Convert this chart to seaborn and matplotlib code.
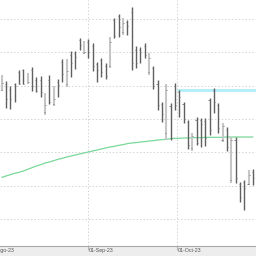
import numpy as np
import pandas as pd
import matplotlib
matplotlib.use("Agg")
import matplotlib.pyplot as plt
import matplotlib.transforms as mtransforms
import seaborn as sns

# ---- data (daily OHLC, trading days from 2023-08-04) ----
start_date = "2023-08-04"
high = [173.2,171.4,169.9,170.8,174.7,175.0,173.8,175.6,172.6,172.9,
        167.8,173.2,169.9,172.0,178.0,178.0,180.4,180.4,184.3,183.4,
        184.0,182.8,177.1,178.3,176.8,184.6,190.3,191.5,190.3,189.7,
        193.6,181.9,181.6,182.8,179.8,175.9,171.7,165.1,170.5,164.8,
        170.8,168.7,165.1,159.7,155.8,160.6,160.3,160.3,166.3,169.3,
        164.8,158.8,157.6,154.6,154.6,141.1,141.7,144.7,145.0]
low = [168.4,163.3,163.0,165.1,170.5,170.5,170.8,168.4,168.1,166.6,
       161.2,164.5,163.9,166.6,171.1,169.6,172.6,175.0,180.7,179.5,
       178.3,174.4,171.1,172.6,172.0,175.3,184.3,184.6,185.2,185.2,
       174.7,175.3,176.8,178.3,173.2,169.0,162.7,159.1,153.7,153.7,
       162.7,160.6,158.8,151.0,150.4,152.2,151.6,151.9,155.2,161.8,
       155.8,153.1,150.4,140.8,140.8,135.1,132.7,140.2,140.2]
open_ = [168.7,170.5,168.7,170.5,174.1,174.7,170.8,174.7,171.7,171.7,
         162.1,171.7,164.5,171.1,177.1,170.5,179.2,179.8,183.7,179.8,
         183.1,181.9,176.5,177.7,175.9,175.9,189.7,190.9,186.1,189.1,
         192.1,180.7,180.7,181.9,174.1,175.3,170.5,164.5,155.8,163.9,
         169.9,168.1,164.5,159.1,151.3,159.7,159.7,159.4,165.7,168.7,
         164.2,153.7,156.7,141.7,153.7,140.5,141.1,140.5,144.1]
close = [170.8,166.0,166.0,169.9,170.5,170.5,171.1,169.9,168.4,168.1,
         164.2,165.1,166.0,170.2,173.5,174.4,176.8,178.6,182.2,180.1,
         180.1,175.9,174.7,174.1,172.9,183.1,184.9,187.6,188.8,187.9,
         176.8,176.8,180.1,179.2,178.3,169.9,164.2,161.5,168.7,154.3,
         164.2,166.6,160.0,152.2,154.9,152.8,158.5,154.3,156.7,165.1,
         157.3,157.9,151.6,153.7,142.3,136.6,139.3,143.2,142.3]
ma = [142.5,142.9,143.3,143.7,144.0,144.4,144.9,145.4,145.9,146.3,
      146.8,147.1,147.5,147.9,148.2,148.6,148.9,149.2,149.5,149.8,
      150.1,150.4,150.7,151.0,151.3,151.6,151.8,152.1,152.3,152.6,
      152.8,152.9,153.1,153.2,153.4,153.5,153.7,153.8,153.9,154.1,
      154.2,154.2,154.3,154.3,154.4,154.4,154.4,154.5,154.5,154.5,
      154.5,154.5,154.6,154.6,154.6,154.6,154.6,154.6,154.6]
level_price = 168.8
level_start = "2023-10-01"
month_labels = ["01-Ago-23", "01-Sep-23", "01-Oct-23"]
month_starts = ["2023-08-01", "2023-09-01", "2023-10-01"]
grid_prices = [130, 140, 150, 160, 170, 180, 190]

# ---- build frame ----
dates = pd.bdate_range(start_date, periods=len(close))
df = pd.DataFrame({"date": dates, "open": open_, "high": high,
                   "low": low, "close": close, "ma": ma})
df["i"] = np.arange(len(df))

all_bd = pd.bdate_range("2023-08-01", "2023-12-31")
offset = int(np.searchsorted(all_bd, dates[0]))

def pos_of(d):
    d = pd.Timestamp(d)
    k = int(np.searchsorted(all_bd, d)) - offset
    return k if d in all_bd else k - 0.5

tick_pos = [pos_of(d) for d in month_starts]

sns.set_theme(style="white")
fig = plt.figure(figsize=(2.56, 2.56), dpi=100, facecolor="#ededed")
ax = fig.add_axes([0, 10/256, 1, 246/256])
ax.set_facecolor("white")

# grid
ax.set_yticks(grid_prices)
ax.set_xticks(tick_pos)
ax.grid(True, linestyle=(0, (1.5, 2)), color="#d4d4d4", linewidth=0.7)
ax.set_axisbelow(True)

# moving average
sns.lineplot(data=df, x="i", y="ma", ax=ax, color="#7ad89a", linewidth=0.9, legend=False)

# level line
ax.hlines(level_price, pos_of(level_start), 70, color="#b4eef8", linewidth=2.1, zorder=2)

# OHLC bars
up = df["close"] > df["open"]
ax.vlines(df["i"][up], df["low"][up], df["high"][up], color="#c6c6c6", linewidth=1.5, zorder=3)
ax.vlines(df["i"][~up], df["low"][~up], df["high"][~up], color="#606060", linewidth=1.0, zorder=3)
ax.hlines(df["open"], df["i"] - 0.25, df["i"], color="#707070", linewidth=0.6, zorder=4)
ax.hlines(df["close"], df["i"], df["i"] + 0.25, color="#707070", linewidth=0.6, zorder=4)

ax.set_xlim(-0.39, 58.73)
ax.set_ylim(121.9, 195.7)
ax.set_xlabel("")
ax.set_ylabel("")

for s in ["top", "right", "left"]:
    ax.spines[s].set_visible(False)
ax.spines["bottom"].set_color("#a8a8a8")
ax.spines["bottom"].set_linewidth(0.8)

ax.set_xticklabels([])
ax.tick_params(axis="x", bottom=True, length=2.8, width=0.6, color="#a8a8a8", pad=0.8)
ax.tick_params(axis="y", left=False, labelleft=False)

trans = mtransforms.blended_transform_factory(ax.transData, ax.transAxes)
for p, lab in zip(tick_pos, month_labels):
    ax.text(p + 0.15, -0.008, lab, transform=trans, ha="left", va="top",
            fontsize=3.8, color="#555555", family=["Liberation Sans", "DejaVu Sans"],
            clip_on=False)

fig.savefig("out.png", dpi=100, facecolor=fig.get_facecolor())
